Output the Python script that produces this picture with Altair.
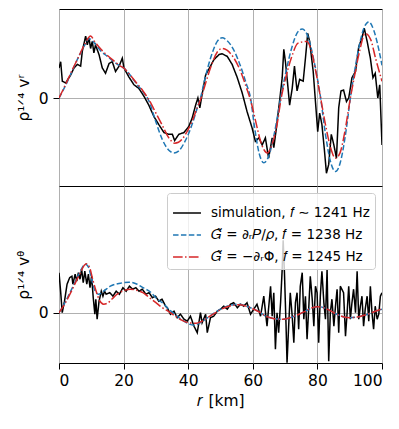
import altair as alt
import pandas as pd

# ---------------- data ----------------
SIM = "simulation, 𝑓 ∼ 1241 Hz"
GP = "𝐺̃ = ∂ᵣ𝑃/𝜌, 𝑓 = 1238 Hz"
GPHI = "𝐺̃ = −∂ᵣΦ, 𝑓 = 1245 Hz"
series_order = [SIM, GP, GPHI]
series_colors = ["#000000", "#1f77b4", "#d62728"]
series_dash = [[1, 0], [5.5, 2.4], [9.6, 2.4, 1.5, 2.4]]

# top panel: rho^{1/4} v^r
top_sim_r = [0.0, 0.52, 1.03, 2.06, 3.61, 4.64, 5.67, 6.70, 7.22, 8.25, 8.76, 9.28, 9.79, 10.3, 10.8, 11.3,
             12.4, 13.4, 14.4, 15.5, 16.5, 17.5, 18.6, 19.6, 20.1, 21.6, 23.2, 24.7, 26.3, 27.8, 29.4, 30.9,
             32.5, 34.0, 35.1, 35.8, 37.1, 38.7, 40.2, 41.2, 42.3, 43.0, 43.6, 44.3, 45.4, 46.9, 47.9, 49.5,
             50.5, 52.1, 53.6, 55.2, 56.7, 58.2, 59.8, 60.8, 61.9, 62.9, 63.9, 64.9, 66.0, 66.5, 67.3, 68.4,
             69.1, 69.6, 70.1, 70.6, 71.4, 72.2, 72.9, 73.7, 74.5, 75.6, 76.3, 77.0, 77.6, 78.7, 79.4, 80.1,
             80.7, 81.4, 82.2, 82.8, 83.5, 84.3, 85.1, 85.9, 86.6, 87.3, 88.1, 89.0, 89.7, 90.7, 91.8, 92.8,
             93.8, 94.5, 95.4, 96.4, 97.2, 97.9, 98.7, 99.3, 100.0]
top_sim_v = [0.34, 0.41, 0.19, 0.17, 0.26, 0.34, 0.38, 0.36, 0.53, 0.70, 0.60, 0.68, 0.56, 0.64, 0.51, 0.60,
             0.49, 0.34, 0.28, 0.39, 0.41, 0.30, 0.36, 0.45, 0.34, 0.24, 0.15, 0.11, 0.02, -0.08, -0.21, -0.30,
             -0.39, -0.41, -0.41, -0.48, -0.41, -0.39, -0.32, -0.23, -0.08, 0.00, -0.11, 0.04, 0.26, 0.36, 0.43, 0.49,
             0.50, 0.47, 0.38, 0.23, 0.06, -0.15, -0.34, -0.49, -0.45, -0.53, -0.45, -0.68, -0.45, -0.56, -0.34, 0.00,
             0.23, 0.55, 0.41, 0.23, -0.08, 0.11, 0.36, 0.08, 0.21, 0.19, 0.45, 0.73, 0.64, 0.30, -0.04, -0.38,
             -0.17, -0.30, -0.60, -0.85, -0.75, -0.41, -0.53, -0.68, -0.11, 0.08, 0.09, -0.04, 0.00, 0.23, 0.30, 0.58,
             0.68, 0.79, 0.64, 0.45, 0.23, 0.28, 0.00, 0.15, -0.53]

top_p_r = [0, 2, 4, 6, 8, 9.3, 11, 13, 15, 17, 19, 20, 22, 24, 26, 27.8, 30, 32, 34, 35.6, 37, 39, 41, 43, 43.8,
           45, 47, 49, 50.5, 52, 54, 56, 58, 59.3, 60.5, 62, 63.4, 65, 66.5, 68, 68.6, 70, 72, 74, 75.3, 77, 79,
           80, 81, 82.5, 84, 85.6, 87, 88.5, 89.5, 90.2, 91.5, 93, 94.5, 95.9, 97.5, 99, 100]
top_p_v = [0, 0.14, 0.30, 0.46, 0.60, 0.67, 0.62, 0.53, 0.47, 0.41, 0.36, 0.34, 0.26, 0.16, 0.07, -0.03, -0.27,
           -0.47, -0.59, -0.62, -0.60, -0.49, -0.32, -0.09, 0.0, 0.19, 0.46, 0.64, 0.68, 0.65, 0.55, 0.38, 0.16,
           0.0, -0.32, -0.63, -0.73, -0.65, -0.43, -0.13, 0.0, 0.25, 0.56, 0.75, 0.78, 0.70, 0.41, 0.22, 0.0,
           -0.41, -0.71, -0.83, -0.74, -0.46, -0.20, 0.0, 0.30, 0.60, 0.80, 0.86, 0.76, 0.55, 0.37]

top_phi_r = [0, 2, 4, 6, 8, 9.8, 11, 13, 15, 17, 19, 20, 22, 24, 26, 28, 30, 32, 34, 35.8, 37, 39, 41, 43, 44,
             45, 47, 49, 50.5, 52, 54, 56, 58, 59.5, 61, 62.5, 64.5, 66, 67.5, 68.8, 70, 72, 74, 76.8, 78, 79.5,
             81, 82.5, 84, 85.6, 87, 88.5, 90.2, 91.5, 93, 94.8, 96.5, 98, 100]
top_phi_v = [0, 0.15, 0.31, 0.46, 0.61, 0.70, 0.64, 0.55, 0.48, 0.42, 0.36, 0.34, 0.26, 0.17, 0.08, -0.03,
             -0.17, -0.31, -0.45, -0.51, -0.50, -0.42, -0.28, -0.09, 0.0, 0.12, 0.35, 0.52, 0.56, 0.54, 0.46,
             0.32, 0.12, -0.05, -0.28, -0.50, -0.62, -0.52, -0.30, 0.0, 0.20, 0.46, 0.62, 0.64, 0.55, 0.30,
             0.0, -0.30, -0.55, -0.68, -0.62, -0.38, 0.0, 0.25, 0.52, 0.73, 0.66, 0.45, 0.19]

# bottom panel: rho^{1/4} v^theta
bot_sim_r = [0.0, 0.5, 1.0, 1.7, 2.5, 3.3, 4.0, 4.3, 5.0, 5.5, 6.0, 6.5, 7.0, 7.5, 8.0, 8.6, 9.1, 9.6, 10.1,
             10.6, 11.1, 11.4, 11.8, 12.4, 13.1, 13.6, 14.1, 14.6, 15.7, 16.7, 17.7, 18.7, 19.8, 20.8, 21.8,
             22.8, 23.8, 24.8, 25.8, 26.9, 27.9, 28.9, 29.9, 30.9, 31.9, 33.0, 33.5, 34.5, 35.6, 36.6, 37.6,
             38.7, 39.7, 40.7, 41.8, 42.8, 43.8, 44.3, 45.4, 45.9, 46.9, 47.9, 49.0, 50.0, 51.0, 52.1, 53.1,
             54.1, 55.2, 56.2, 57.2, 58.2, 59.3, 60.3, 61.3, 62.4, 63.4, 64.4, 65.5, 66.0, 66.5, 67.0, 67.5,
             68.0, 68.6, 69.1, 69.4, 69.8, 70.3, 70.6, 71.1, 71.6, 72.2, 72.7, 73.2, 73.7, 74.2, 74.7, 75.3,
             75.8, 76.3, 76.8, 77.3, 77.8, 78.4, 78.9, 79.4, 79.9, 80.4, 80.9, 81.4, 82.0, 82.5, 83.0, 83.5,
             84.0, 84.5, 85.1, 85.6, 86.1, 86.6, 87.1, 88.1, 88.7, 89.2, 89.7, 90.2, 90.7, 91.2, 91.8, 92.3,
             92.8, 93.3, 93.8, 94.3, 94.8, 95.4, 95.9, 96.4, 96.9, 97.4, 97.9, 98.5, 99.0, 99.5, 100.0]
bot_sim_v = [0.80, 0.43, 0.0, 0.23, 0.57, 0.70, 0.73, 0.57, 0.77, 0.63, 0.80, 0.67, 0.87, 0.60, 0.83, 0.57,
             0.77, 0.50, 0.73, 0.30, -0.03, 0.27, -0.13, 0.23, 0.43, 0.33, 0.43, 0.37, 0.40, 0.33, 0.43, 0.37,
             0.50, 0.43, 0.53, 0.47, 0.50, 0.43, 0.47, 0.37, 0.40, 0.30, 0.33, 0.23, 0.27, 0.13, 0.10, -0.03,
             0.03, -0.10, -0.03, -0.13, -0.17, -0.07, -0.27, -0.40, 0.0, -0.20, -0.03, -0.40, -0.10, -0.07,
             0.03, 0.07, 0.13, 0.07, 0.17, 0.20, 0.10, 0.17, 0.13, 0.20, -0.03, 0.07, 0.17, -0.07, 0.33, -0.27,
             0.53, -0.07, 0.40, -0.73, 0.0, -0.40, 0.20, 0.87, 1.45, 0.80, -0.27, -1.0, -0.27, 0.40, -0.07,
             -0.60, 0.20, 0.40, -0.33, 0.53, 0.80, -0.13, 0.33, -0.53, 0.07, 0.73, 0.27, -0.27, 0.53, 0.40,
             -0.60, 0.33, 0.83, 0.20, -0.13, 0.87, -0.97, 0.0, 0.27, -0.27, 0.13, 0.47, -0.40, 0.53, 0.40,
             -0.47, 0.0, 0.53, -0.13, 0.20, 0.47, 0.0, 0.83, -0.13, 0.13, 0.33, -0.27, 0.07, 0.33, -0.17, 0.53,
             0.0, -0.33, 0.13, -0.13, -0.03, 0.33, 0.40]

bot_p_r = [0, 2, 4, 6, 8.2, 9.2, 10.1, 11.2, 12.2, 13.8, 15.9, 19, 21.6, 24.2, 26, 28.4, 30, 32.5, 34, 36, 38,
           40, 41.8, 44, 46, 48, 50, 52, 54, 55.7, 58, 60, 62.4, 64, 66, 68, 69.6, 72, 74, 76, 78, 80, 82, 84,
           86, 88, 90.2, 92, 94, 96, 98, 100]
bot_p_v = [0, 0.22, 0.48, 0.75, 0.97, 0.90, 0.67, 0.43, 0.37, 0.43, 0.53, 0.59, 0.61, 0.57, 0.50, 0.41, 0.30,
           0.17, 0.07, -0.04, -0.14, -0.22, -0.25, -0.19, -0.10, -0.01, 0.07, 0.13, 0.16, 0.17, 0.13, 0.08,
           0.0, -0.07, -0.11, -0.13, -0.13, -0.09, -0.04, 0.02, 0.09, 0.12, 0.10, 0.04, -0.03, -0.08, -0.10,
           -0.09, -0.06, -0.02, 0.03, 0.07]

bot_phi_r = [0, 2, 4, 6, 8.5, 9.5, 10.5, 11.5, 12.5, 13.8, 15, 16.5, 18, 20, 22, 24, 26, 28, 30, 32, 34, 36,
             38, 40, 42.5, 44, 46, 48, 50, 52, 54, 56, 58, 60, 62.4, 64, 66, 68, 69.6, 72, 74, 76, 78, 80, 82,
             84, 86, 88, 90.2, 92, 94, 96, 98, 100]
bot_phi_v = [0, 0.20, 0.45, 0.72, 0.98, 0.90, 0.65, 0.43, 0.25, 0.17, 0.19, 0.28, 0.37, 0.44, 0.47, 0.45, 0.40,
             0.30, 0.20, 0.10, 0.02, -0.07, -0.15, -0.20, -0.21, -0.18, -0.10, -0.02, 0.06, 0.12, 0.15, 0.16,
             0.13, 0.08, 0.0, -0.07, -0.11, -0.13, -0.13, -0.09, -0.04, 0.02, 0.09, 0.12, 0.10, 0.04, -0.03,
             -0.08, -0.10, -0.09, -0.06, -0.02, 0.03, 0.08]

x_ticks = [0, 20, 40, 60, 80, 100]


def frame(rs, vs, name):
    return pd.DataFrame({"r": rs, "v": vs, "series": name})


top_sim = frame(top_sim_r, top_sim_v, SIM)
top_p = frame(top_p_r, top_p_v, GP)
top_phi = frame(top_phi_r, top_phi_v, GPHI)
bot_sim = frame(bot_sim_r, bot_sim_v, SIM)
bot_p = frame(bot_p_r, bot_p_v, GP)
bot_phi = frame(bot_phi_r, bot_phi_v, GPHI)

FONT = "DejaVu Sans"
W, H = 323, 177

color_scale = alt.Scale(domain=series_order, range=series_colors)
dash_scale = alt.Scale(domain=series_order, range=series_dash)

leg = alt.Legend(
    title=None, orient="top-right", offset=7, symbolType="stroke", symbolSize=780,
    symbolStrokeWidth=1.5, labelFontSize=13.5, labelFont=FONT, labelColor="black",
    labelOffset=9, padding=5, rowPadding=0, fillColor="rgba(255,255,255,0.8)",
    strokeColor="#cccccc", cornerRadius=3, labelLimit=400,
)


def panel(dfs, ydom, ytitle, legend, bottom):
    if bottom:
        xaxis = alt.Axis(values=x_ticks, title="𝑟 [km]", grid=True, domain=False, tickSize=6,
                         labelPadding=4, titlePadding=5, labelFontSize=15.5, titleFontSize=15.5,
                         labelFont=FONT, titleFont=FONT, titleFontWeight="normal",
                         labelColor="black", titleColor="black", tickColor="black",
                         gridColor="#b0b0b0", gridWidth=1)
    else:
        xaxis = alt.Axis(values=x_ticks, title=None, labels=False, grid=True, domain=False,
                         tickSize=6, tickColor="black", gridColor="#b0b0b0", gridWidth=1)
    yaxis = alt.Axis(values=[0], title=ytitle, grid=True, domain=False, tickSize=6,
                     labelPadding=5, titlePadding=7, labelFontSize=15.5, titleFontSize=15.5,
                     labelFont=FONT, titleFont=FONT, titleFontWeight="normal",
                     labelColor="black", titleColor="black", tickColor="black",
                     gridColor="#b0b0b0", gridWidth=1)
    layers = []
    for i, d in enumerate(dfs):
        interp = "linear" if i == 0 else "monotone"
        layers.append(
            alt.Chart(d).mark_line(strokeWidth=1.5, clip=True, interpolate=interp).encode(
                x=alt.X("r:Q", scale=alt.Scale(domain=[0, 100], nice=False), axis=xaxis),
                y=alt.Y("v:Q", scale=alt.Scale(domain=ydom, nice=False, zero=False), axis=yaxis),
                color=alt.Color("series:N", scale=color_scale, legend=legend),
                strokeDash=alt.StrokeDash("series:N", scale=dash_scale, legend=legend),
            )
        )
    return alt.layer(*layers).properties(width=W, height=H)


top = panel([top_sim, top_p, top_phi], [-0.994, 1.006], "ρ¹ᐟ⁴ vʳ", None, False)
bot = panel([bot_sim, bot_p, bot_phi], [-1.006, 2.534], "ρ¹ᐟ⁴ vᶿ", leg, True)

chart = alt.vconcat(top, bot, spacing=0, bounds="flush").resolve_scale(
    y="independent", color="independent", strokeDash="independent"
).properties(
    padding={"left": 7, "top": 0, "right": 8, "bottom": 5},
    background="white",
).configure_view(
    stroke="black", strokeWidth=1
)

chart.save("out.html", embed_options={"renderer": "svg", "actions": False})
